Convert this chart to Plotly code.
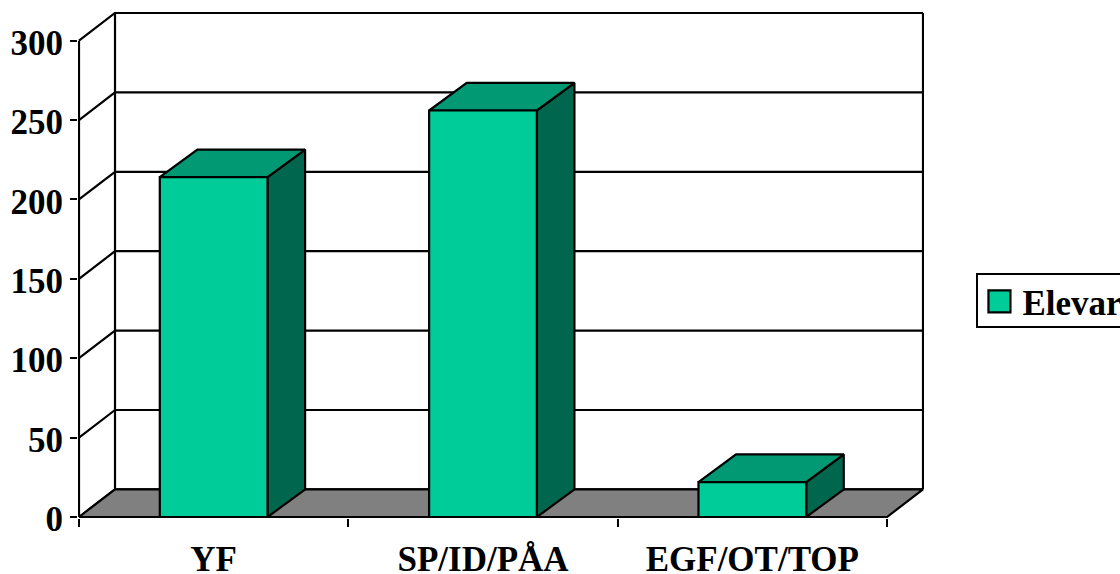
import plotly.graph_objects as go

CATEGORIES = ["YF", "SP/ID/PÅA", "EGF/OT/TOP"]
ELEVAR = [214, 256, 22]
Y_TICKS = [0, 50, 100, 150, 200, 250, 300]

SERIES_NAME = "Elevar"
FRONT = "#00CC99"
TOP = "#009973"
SIDE = "#00664D"
FLOOR = "#808080"
INK = "#000000"
FONT = "Liberation Serif"
FONT_SIZE = 35
LINE = 2.2

BAR_WIDTH = 0.4
DEPTH_X = 0.1337   # oblique shift of the back wall, in category units
BAR_DEPTH_X = 0.1395
DEPTH_Y = 17.4     # oblique shift of the back wall, in value units
PAD_X = 0.0037     # one pixel of room round the frame so its lines stay whole
PAD_Y = 0.63
X0, X1 = -0.5, len(CATEGORIES) - 0.5
Y_MAX = max(Y_TICKS)

fig = go.Figure()
idx = list(range(len(CATEGORIES)))


def poly(xs, ys, fill=None, z=0):
    fig.add_trace(go.Scatter(
        x=xs, y=ys, mode="lines", showlegend=False, hoverinfo="skip",
        fill="toself" if fill else None, fillcolor=fill,
        line=dict(color=INK, width=LINE), cliponaxis=False, zorder=z,
    ))


# back wall and gridlines
for v in Y_TICKS:
    poly([X0, X0 + DEPTH_X, X1 + DEPTH_X], [v, v + DEPTH_Y, v + DEPTH_Y])
poly([X0 + DEPTH_X, X0 + DEPTH_X], [DEPTH_Y, Y_MAX + DEPTH_Y])
poly([X1 + DEPTH_X, X1 + DEPTH_X], [DEPTH_Y, Y_MAX + DEPTH_Y])
# front value axis
poly([X0, X0], [0, Y_MAX])
# floor
poly([X0, X1, X1 + DEPTH_X, X0 + DEPTH_X, X0], [0, 0, DEPTH_Y, DEPTH_Y, 0], fill=FLOOR, z=1)

# bar sides and tops
for i, v in zip(idx, ELEVAR):
    l, r = i - BAR_WIDTH / 2, i + BAR_WIDTH / 2
    poly([r, r + BAR_DEPTH_X, r + BAR_DEPTH_X, r, r], [0, DEPTH_Y, v + DEPTH_Y, v, 0], fill=SIDE, z=2)
    poly([l, r, r + BAR_DEPTH_X, l + BAR_DEPTH_X, l], [v, v, v + DEPTH_Y, v + DEPTH_Y, v], fill=TOP, z=2)

# bar fronts
fig.add_trace(go.Bar(
    x=idx, y=ELEVAR, width=BAR_WIDTH, name=SERIES_NAME, showlegend=True,
    marker=dict(color=FRONT, line=dict(color=INK, width=LINE)), cliponaxis=False, zorder=3,
))

tick_font = dict(family=FONT, size=FONT_SIZE, color=INK, weight=700)

fig.update_layout(
    width=1120, height=574,
    margin=dict(l=78, r=196, t=12, b=56, pad=0, autoexpand=False),
    paper_bgcolor="white", plot_bgcolor="white",
    xaxis=dict(
        range=[X0 - PAD_X, X1 + DEPTH_X + PAD_X], tickmode="array", tickvals=idx, ticktext=CATEGORIES,
        tickfont=tick_font, ticks="", showgrid=False, zeroline=False, showline=False,
        ticklabelstandoff=17,
        minor=dict(tickmode="array", tickvals=[i - 0.5 for i in range(len(CATEGORIES) + 1)],
                   ticks="outside", ticklen=8, tickwidth=2, tickcolor=INK, showgrid=False),
    ),
    yaxis=dict(
        range=[-PAD_Y, Y_MAX + DEPTH_Y + PAD_Y], tickmode="array", tickvals=Y_TICKS,
        tickfont=tick_font, ticks="outside", ticklen=7, tickwidth=2, tickcolor=INK,
        showgrid=False, zeroline=False, showline=False, ticklabelshift=2,
    ),
    legend=dict(
        x=1.062, y=0.490, xanchor="left", yanchor="top",
        bgcolor="white", bordercolor=INK, borderwidth=2,
        font=dict(family=FONT, size=FONT_SIZE, color=INK, weight=700),
        itemwidth=34, itemclick=False, itemdoubleclick=False,
    ),
    showlegend=True,
)

# page without body margin; legend box and swatch at the reference's size
POST = """
document.body.style.margin = '0';
document.documentElement.style.overflow = 'hidden';
document.querySelectorAll('.legend .legendpoints path').forEach(function(e){
  e.setAttribute('d','M10,11H-12V-11H10Z');
});
var bg = document.querySelector('.legend .bg');
if (bg) { bg.setAttribute('y', '4'); bg.setAttribute('height', '53'); }
"""
fig.write_html("out.html", post_script=POST, config={"displayModeBar": False})
